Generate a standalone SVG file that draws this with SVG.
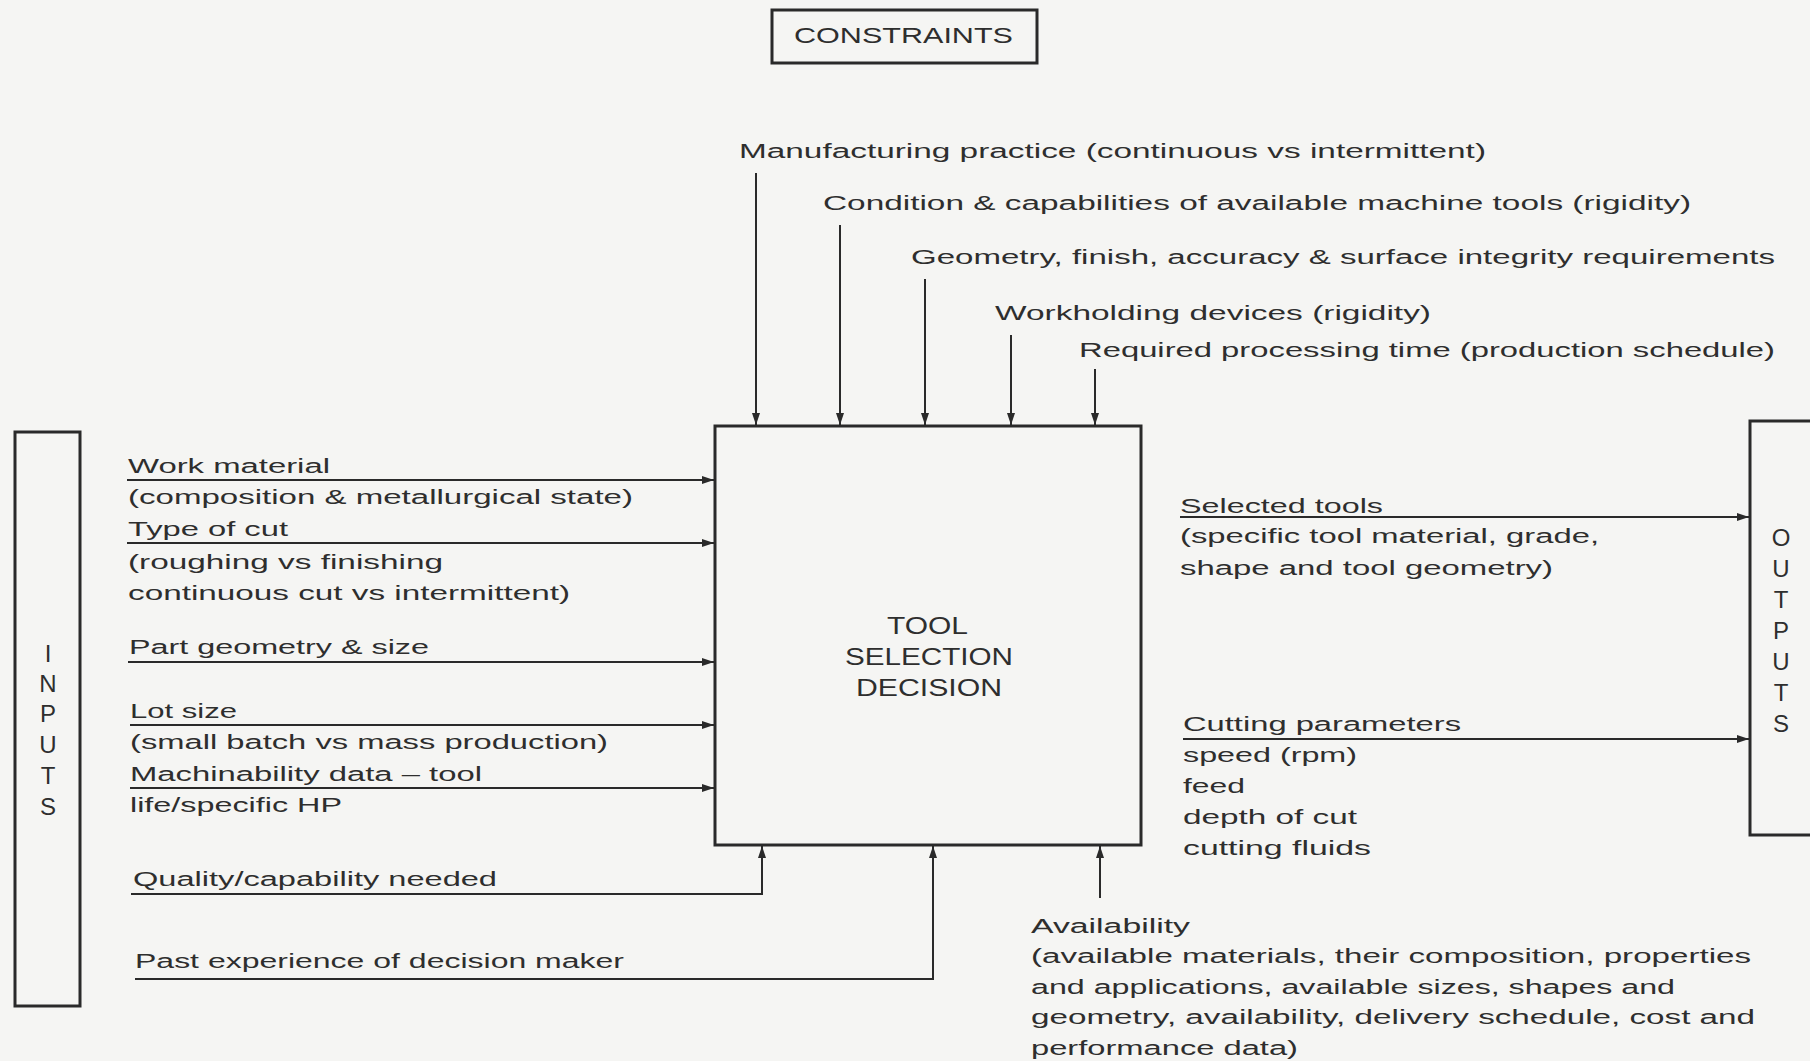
<svg xmlns="http://www.w3.org/2000/svg" width="1810" height="1061" viewBox="0 0 1810 1061">
<defs>
<marker id="ah" viewBox="0 0 12 8" refX="12" refY="4" markerWidth="12" markerHeight="8" markerUnits="userSpaceOnUse" orient="auto">
<path d="M0,0 L12,4 L0,8 z" fill="#2a2a2a"/>
</marker>
<style>
text{font-family:"Liberation Sans",Arial,sans-serif;font-size:20px;fill:#2e2e2e}
.t{font-size:22px}
.big{font-size:24px}
.box{fill:none;stroke:#2a2a2a;stroke-width:3}
.ln{fill:none;stroke:#2a2a2a;stroke-width:2}
.ar{fill:none;stroke:#2a2a2a;stroke-width:2;marker-end:url(#ah)}
.c{text-anchor:middle}
</style>
</defs>
<rect width="1810" height="1061" fill="#f5f5f3"/>

<g id="constraints">
<rect class="box" x="772" y="10" width="265" height="53"/>
<text class="t" x="794" y="43" textLength="219" lengthAdjust="spacingAndGlyphs">CONSTRAINTS</text>
</g>

<g id="decision">
<rect class="box" x="715" y="426" width="426" height="419"/>
<text class="big" x="887" y="634" textLength="81" lengthAdjust="spacingAndGlyphs">TOOL</text>
<text class="big" x="845" y="665" textLength="168" lengthAdjust="spacingAndGlyphs">SELECTION</text>
<text class="big" x="856" y="696" textLength="146" lengthAdjust="spacingAndGlyphs">DECISION</text>
</g>

<g id="inputs">
<rect class="box" x="15" y="432" width="65" height="574"/>
<text class="big c" x="48" y="662">I</text>
<text class="big c" x="48" y="692">N</text>
<text class="big c" x="48" y="722">P</text>
<text class="big c" x="48" y="753">U</text>
<text class="big c" x="48" y="784">T</text>
<text class="big c" x="48" y="815">S</text>
</g>

<g id="outputs">
<rect class="box" x="1750" y="421" width="65" height="414"/>
<text class="big c" x="1781" y="546">O</text>
<text class="big c" x="1781" y="577">U</text>
<text class="big c" x="1781" y="608">T</text>
<text class="big c" x="1781" y="639">P</text>
<text class="big c" x="1781" y="670">U</text>
<text class="big c" x="1781" y="701">T</text>
<text class="big c" x="1781" y="732">S</text>
</g>

<g id="constraint-labels">
<text x="739" y="158" textLength="747" lengthAdjust="spacingAndGlyphs">Manufacturing practice (continuous vs intermittent)</text>
<text x="823" y="210" textLength="868" lengthAdjust="spacingAndGlyphs">Condition &amp; capabilities of available machine tools (rigidity)</text>
<text x="911" y="264" textLength="864" lengthAdjust="spacingAndGlyphs">Geometry, finish, accuracy &amp; surface integrity requirements</text>
<text x="995" y="320" textLength="436" lengthAdjust="spacingAndGlyphs">Workholding devices (rigidity)</text>
<text x="1079" y="357" textLength="696" lengthAdjust="spacingAndGlyphs">Required processing time (production schedule)</text>
</g>

<g id="input-labels">
<text x="128" y="473" textLength="202" lengthAdjust="spacingAndGlyphs">Work material</text>
<text x="128" y="504" textLength="505" lengthAdjust="spacingAndGlyphs">(composition &amp; metallurgical state)</text>
<text x="128" y="536" textLength="160" lengthAdjust="spacingAndGlyphs">Type of cut</text>
<text x="128" y="569" textLength="315" lengthAdjust="spacingAndGlyphs">(roughing vs finishing</text>
<text x="128" y="600" textLength="442" lengthAdjust="spacingAndGlyphs">continuous cut vs intermittent)</text>
<text x="129" y="654" textLength="300" lengthAdjust="spacingAndGlyphs">Part geometry &amp; size</text>
<text x="130" y="718" textLength="107" lengthAdjust="spacingAndGlyphs">Lot size</text>
<text x="130" y="749" textLength="478" lengthAdjust="spacingAndGlyphs">(small batch vs mass production)</text>
<text x="130" y="781" textLength="352" lengthAdjust="spacingAndGlyphs">Machinability data – tool</text>
<text x="130" y="812" textLength="212" lengthAdjust="spacingAndGlyphs">life/specific HP</text>
<text x="133" y="886" textLength="364" lengthAdjust="spacingAndGlyphs">Quality/capability needed</text>
<text x="135" y="968" textLength="489" lengthAdjust="spacingAndGlyphs">Past experience of decision maker</text>
</g>

<g id="output-labels">
<text x="1180" y="513" textLength="203" lengthAdjust="spacingAndGlyphs">Selected tools</text>
<text x="1180" y="543" textLength="419" lengthAdjust="spacingAndGlyphs">(specific tool material, grade,</text>
<text x="1180" y="575" textLength="373" lengthAdjust="spacingAndGlyphs">shape and tool geometry)</text>
<text x="1183" y="731" textLength="278" lengthAdjust="spacingAndGlyphs">Cutting parameters</text>
<text x="1183" y="762" textLength="174" lengthAdjust="spacingAndGlyphs">speed (rpm)</text>
<text x="1183" y="793" textLength="62" lengthAdjust="spacingAndGlyphs">feed</text>
<text x="1183" y="824" textLength="174" lengthAdjust="spacingAndGlyphs">depth of cut</text>
<text x="1183" y="855" textLength="188" lengthAdjust="spacingAndGlyphs">cutting fluids</text>
</g>

<g id="availability-label">
<text x="1031" y="933" textLength="159" lengthAdjust="spacingAndGlyphs">Availability</text>
<text x="1031" y="963" textLength="720" lengthAdjust="spacingAndGlyphs">(available materials, their composition, properties</text>
<text x="1031" y="994" textLength="644" lengthAdjust="spacingAndGlyphs">and applications, available sizes, shapes and</text>
<text x="1031" y="1024" textLength="724" lengthAdjust="spacingAndGlyphs">geometry, availability, delivery schedule, cost and</text>
<text x="1031" y="1055" textLength="267" lengthAdjust="spacingAndGlyphs">performance data)</text>
</g>

<g id="connectors">
<line class="ar" x1="756" y1="173" x2="756" y2="425"/>
<line class="ar" x1="840" y1="225" x2="840" y2="425"/>
<line class="ar" x1="925" y1="279" x2="925" y2="425"/>
<line class="ar" x1="1011" y1="335" x2="1011" y2="425"/>
<line class="ar" x1="1095" y1="369" x2="1095" y2="425"/>

<line class="ar" x1="127" y1="480" x2="714" y2="480"/>
<line class="ar" x1="127" y1="543" x2="714" y2="543"/>
<line class="ar" x1="128" y1="662" x2="714" y2="662"/>
<line class="ar" x1="130" y1="725" x2="714" y2="725"/>
<line class="ar" x1="130" y1="788" x2="714" y2="788"/>

<polyline class="ar" points="131,894 762,894 762,846"/>
<polyline class="ar" points="135,979 933,979 933,846"/>
<line class="ar" x1="1100" y1="898" x2="1100" y2="846"/>

<line class="ar" x1="1180" y1="517" x2="1749" y2="517"/>
<line class="ar" x1="1183" y1="739" x2="1749" y2="739"/>
</g>
</svg>
